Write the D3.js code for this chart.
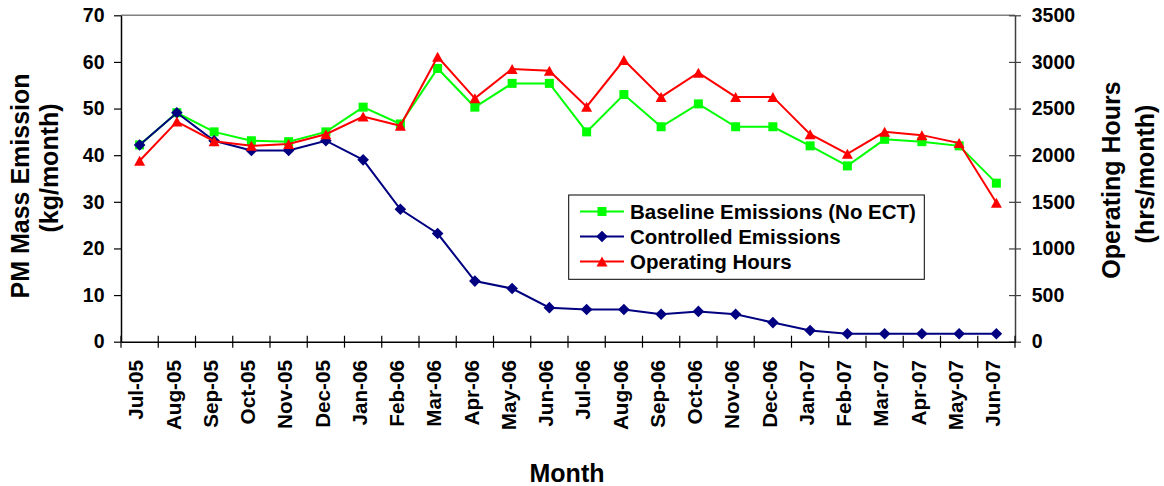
<!DOCTYPE html>
<html>
<head>
<meta charset="utf-8">
<script src="https://cdn.jsdelivr.net/npm/d3@7"></script>
<style>
  html, body { margin: 0; padding: 0; background: #fff; }
  svg { display: block; }
  text { font-family: "Liberation Sans", Arial, sans-serif; font-weight: bold; fill: #000; }
</style>
</head>
<body>
<svg id="chart" width="1164" height="486"></svg>
<script>
// Monthly categories
const months = ["Jul-05","Aug-05","Sep-05","Oct-05","Nov-05","Dec-05","Jan-06","Feb-06","Mar-06","Apr-06","May-06","Jun-06",
                "Jul-06","Aug-06","Sep-06","Oct-06","Nov-06","Dec-06","Jan-07","Feb-07","Mar-07","Apr-07","May-07","Jun-07"];

// PM mass emission without the emission control technology (kg/month)
const baselineEmissions = [42.2, 49.1, 45.0, 43.1, 42.9, 45.0, 50.3, 46.7, 58.6, 50.3, 55.4, 55.4,
                           45.0, 53.0, 46.1, 51.0, 46.1, 46.1, 42.0, 37.7, 43.4, 42.9, 42.0, 34.0];

// PM mass emission with controls in place (kg/month)
const controlledEmissions = [42.2, 49.1, 43.1, 41.0, 41.0, 43.1, 39.0, 28.4, 23.2, 13.0, 11.4, 7.3,
                             6.9, 6.9, 5.9, 6.5, 5.9, 4.1, 2.4, 1.7, 1.7, 1.7, 1.7, 1.7];

// Operating hours (hrs/month), right axis
const operatingHours = [1940, 2360, 2150, 2100, 2120, 2225, 2415, 2315, 3055, 2610, 2925, 2905,
                        2520, 3020, 2625, 2885, 2625, 2625, 2225, 2015, 2250, 2215, 2130, 1490];

const leftTicks = [0, 10, 20, 30, 40, 50, 60, 70];
const rightTicks = [0, 500, 1000, 1500, 2000, 2500, 3000, 3500];

const svg = d3.select("#chart");

const plot = { left: 121, right: 1015, top: 15.3, bottom: 341.7 };

const x = d3.scaleBand().domain(months).range([plot.left, plot.right]).padding(0);
const yL = d3.scaleLinear().domain([0, 70]).range([plot.bottom, plot.top]);
const yR = d3.scaleLinear().domain([0, 3500]).range([plot.bottom, plot.top]);
const cx = m => x(m) + x.bandwidth() / 2;

// Plot frame: grey top edge
svg.append("line")
  .attr("x1", plot.left).attr("x2", plot.right)
  .attr("y1", plot.top).attr("y2", plot.top)
  .attr("stroke", "#808080").attr("stroke-width", 1.5);

// Left axis
const gL = svg.append("g")
  .attr("transform", `translate(${plot.left},0)`)
  .call(d3.axisLeft(yL).tickValues(leftTicks).tickFormat(d3.format("d"))
        .tickSizeInner(7).tickSizeOuter(0).tickPadding(9.5));
gL.select(".domain").attr("stroke", "#000").attr("stroke-width", 1.5);
gL.selectAll(".tick line").attr("stroke", "#000").attr("stroke-width", 1.2);
gL.selectAll(".tick text").style("font-size", "19.5px").attr("font-family", null);

// Right axis (ticks cross the axis line)
const gR = svg.append("g")
  .attr("transform", `translate(${plot.right},0)`)
  .call(d3.axisRight(yR).tickValues(rightTicks).tickFormat(d3.format("d"))
        .tickSizeInner(6).tickSizeOuter(0).tickPadding(10.7));
gR.select(".domain").attr("stroke", "#404040").attr("stroke-width", 1.5);
gR.selectAll(".tick line").attr("x1", -6).attr("stroke", "#404040").attr("stroke-width", 1.2);
gR.selectAll(".tick text").style("font-size", "19.5px").attr("font-family", null);

// Bottom axis: labels at category centres, ticks on category boundaries
const gB = svg.append("g")
  .attr("transform", `translate(0,${plot.bottom})`)
  .call(d3.axisBottom(x).tickSizeInner(0).tickSizeOuter(0).tickPadding(0));
gB.select(".domain").attr("stroke", "#000").attr("stroke-width", 1.5);
gB.selectAll(".tick line").remove();
gB.selectAll(".tick text")
  .attr("font-family", null)
  .style("font-size", "20.7px")
  .attr("text-anchor", "end")
  .attr("dy", null)
  .attr("transform", "rotate(-90)")
  .attr("x", -(360 - plot.bottom))
  .attr("y", 3.7);

const boundaries = months.map(m => x(m)).concat([plot.right]);
gB.selectAll("line.bound").data(boundaries).enter().append("line")
  .attr("class", "bound")
  .attr("x1", d => d).attr("x2", d => d)
  .attr("y1", -6).attr("y2", 6)
  .attr("stroke", "#000").attr("stroke-width", 1.2);

// Axis titles
svg.append("text").attr("transform", `translate(29,186) rotate(-90)`)
  .attr("text-anchor", "middle").style("font-size", "25px").text("PM Mass Emission");
svg.append("text").attr("transform", `translate(58,168) rotate(-90)`)
  .attr("text-anchor", "middle").style("font-size", "25px").text("(kg/month)");
svg.append("text").attr("transform", `translate(1120,180) rotate(-90)`)
  .attr("text-anchor", "middle").style("font-size", "25px").text("Operating Hours");
svg.append("text").attr("transform", `translate(1154,174) rotate(-90)`)
  .attr("text-anchor", "middle").style("font-size", "25px").text("(hrs/month)");
svg.append("text").attr("x", 567).attr("y", 481.5)
  .attr("text-anchor", "middle").style("font-size", "25px").text("Month");

// Marker shapes
const squarePath = s => `M${-s/2},${-s/2}h${s}v${s}h${-s}Z`;
const diamondPath = r => `M0,${-r}L${r},0L0,${r}L${-r},0Z`;
const trianglePath = (w, h) => `M0,${-h/2}L${w/2},${h/2}L${-w/2},${h/2}Z`;

const series = [
  { name: "Baseline Emissions (No ECT)", values: baselineEmissions, y: yL, color: "#00ff00", marker: squarePath(9) },
  { name: "Controlled Emissions", values: controlledEmissions, y: yL, color: "#000080", marker: diamondPath(5.8) },
  { name: "Operating Hours", values: operatingHours, y: yR, color: "#ff0000", marker: trianglePath(11, 10) }
];

series.forEach(s => {
  const line = d3.line().x((d, i) => cx(months[i])).y(d => s.y(d));
  svg.append("path")
    .attr("d", line(s.values))
    .attr("fill", "none").attr("stroke", s.color).attr("stroke-width", 2);
  svg.append("g").selectAll("path").data(s.values).enter().append("path")
    .attr("d", s.marker)
    .attr("transform", (d, i) => `translate(${cx(months[i])},${s.y(d)})`)
    .attr("fill", s.color);
});

// Legend
const legend = svg.append("g");
legend.append("rect")
  .attr("x", 568.7).attr("y", 195).attr("width", 355.6).attr("height", 84.3)
  .attr("fill", "#fff").attr("stroke", "#000").attr("stroke-width", 1);
const rowY = [211.5, 236.5, 261.5];
series.forEach((s, i) => {
  const g = legend.append("g").attr("transform", `translate(0,${rowY[i]})`);
  g.append("line").attr("x1", 580).attr("x2", 624).attr("y1", 0).attr("y2", 0)
    .attr("stroke", s.color).attr("stroke-width", 2);
  g.append("path").attr("d", s.marker).attr("transform", "translate(602,0)").attr("fill", s.color);
  g.append("text").attr("x", 630).attr("y", 7.2).style("font-size", "20.5px").text(s.name);
});
</script>
</body>
</html>
